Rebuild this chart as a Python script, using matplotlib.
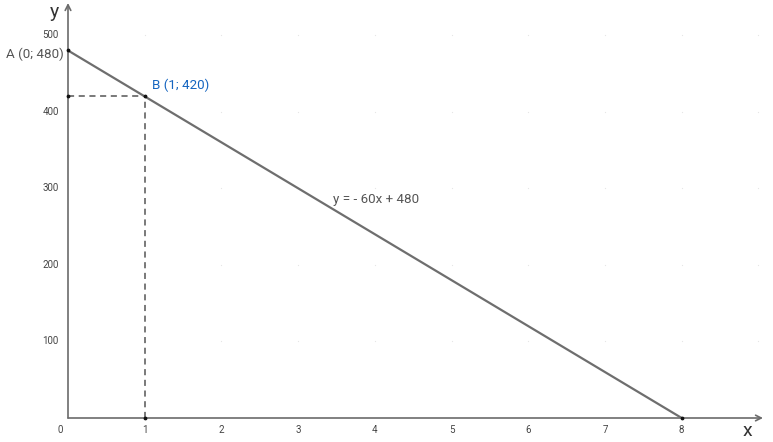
import matplotlib
matplotlib.use("Agg")
import matplotlib.pyplot as plt
import numpy as np

plt.rcParams['font.family'] = ['Roboto', 'DejaVu Sans']

x_ticks = [0, 1, 2, 3, 4, 5, 6, 7, 8]
y_ticks = [100, 200, 300, 400, 500]
line_x = [0, 8]
line_y = [480, 0]
point_a = (0, 480)
point_b = (1, 420)
label_a = "A (0; 480)"
label_b = "B (1; 420)"
eq_label = "y = - 60x + 480"

W, H = 773, 442
fig = plt.figure(figsize=(W / 100, H / 100), dpi=100)
x0, y0 = 68, 418
xmax, ymax = 9.06, 542
ax = fig.add_axes([x0 / W, (H - y0) / H, 695 / W, 415 / H])
ax.set_xlim(0, xmax)
ax.set_ylim(0, ymax)
for s in ['top', 'right', 'left', 'bottom']:
    ax.spines[s].set_visible(False)
ax.set_xticks([])
ax.set_yticks([])
ax.patch.set_alpha(0)

axc = '#6b6b6b'
# axes with arrows
ax.annotate('', xy=(xmax, 0), xytext=(0, 0),
            arrowprops=dict(arrowstyle='->', color=axc, lw=1.2, shrinkA=0, shrinkB=0),
            annotation_clip=False)
ax.annotate('', xy=(0, ymax), xytext=(0, 0),
            arrowprops=dict(arrowstyle='->', color=axc, lw=1.2, shrinkA=0, shrinkB=0),
            annotation_clip=False)

# faint grid dots
gx, gy = np.meshgrid(range(1, 10), y_ticks)
ax.scatter(gx.ravel(), gy.ravel(), s=0.8, color='#e6e6e6', zorder=1, clip_on=False,
           linewidths=0)

# tick labels
for xv in x_ticks:
    ax.text(xv - (0.1 if xv == 0 else 0), -16, str(xv), ha='center', va='center',
            fontsize=7, color='#444444')
for yv in y_ticks:
    ax.text(-0.12, yv, str(yv), ha='right', va='center', fontsize=7, color='#444444')

ax.text(-0.18, ymax - 12, 'y', ha='center', va='center', fontsize=14, color='#333333')
ax.text(xmax - 0.2, -17, 'x', ha='center', va='center', fontsize=14, color='#333333')

# main line
ax.plot(line_x, line_y, color='#6e6e6e', lw=1.6, zorder=3, solid_capstyle='butt')
# dashed guides
ax.plot([0, point_b[0]], [point_b[1], point_b[1]], color='#555555', lw=1.1,
        ls=(0, (4, 3)), zorder=2)
ax.plot([point_b[0], point_b[0]], [0, point_b[1]], color='#555555', lw=1.1,
        ls=(0, (4, 3)), zorder=2)

pts_x = [point_a[0], point_b[0], line_x[1], point_b[0], 0]
pts_y = [point_a[1], point_b[1], line_y[1], 0, point_b[1]]
ax.scatter(pts_x, pts_y, s=3, color='#111111', zorder=4, clip_on=False)

ax.text(-0.05, point_a[1] - 5, label_a, ha='right', va='center', fontsize=9.6, color='#555555')
ax.text(point_b[0] + 0.1, point_b[1] + 15, label_b, ha='left', va='center',
        fontsize=9.6, color='#1565c0')
ax.text(3.45, 285, eq_label, ha='left', va='center', fontsize=9.6, color='#555555')

fig.savefig('out.png', dpi=100)
